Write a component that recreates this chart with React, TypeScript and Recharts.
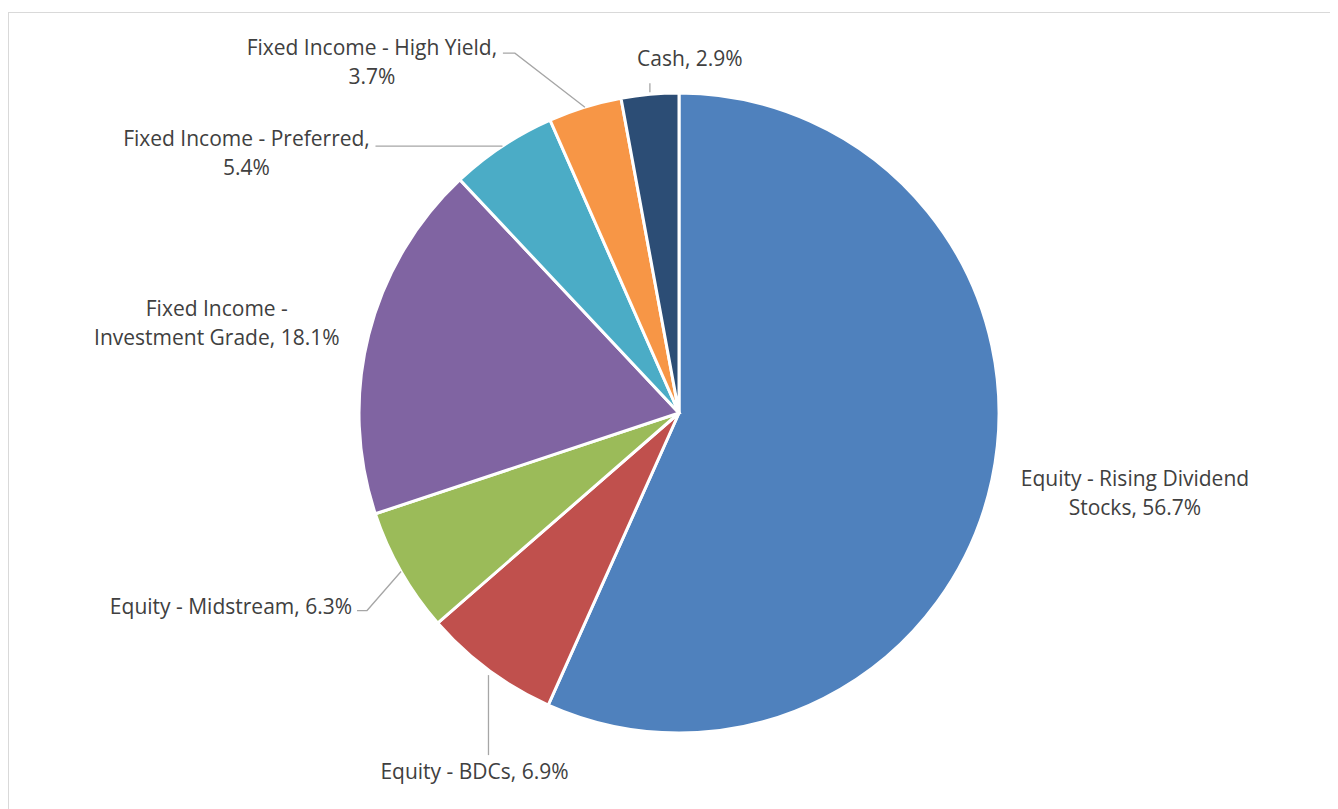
import React from 'react';
import { PieChart, Pie, Cell } from 'recharts';

const CATEGORIES = [
  'Equity - Rising Dividend Stocks',
  'Equity - BDCs',
  'Equity - Midstream',
  'Fixed Income - Investment Grade',
  'Fixed Income - Preferred',
  'Fixed Income - High Yield',
  'Cash',
];
const VALUES = [56.7, 6.9, 6.3, 18.1, 5.4, 3.7, 2.9];
// label text lines as Excel wrapped them
const LABEL_LINES = [
  ['Equity - Rising Dividend', 'Stocks, 56.7%'],
  ['Equity - BDCs, 6.9%'],
  ['Equity - Midstream, 6.3%'],
  ['Fixed Income -', 'Investment Grade, 18.1%'],
  ['Fixed Income - Preferred,', '5.4%'],
  ['Fixed Income - High Yield,', '3.7%'],
  ['Cash, 2.9%'],
];
const COLORS = ['#4F81BD', '#C0504D', '#9BBB59', '#8064A2', '#4BACC6', '#F79646', '#2C4D75'];

// label placement relative to the slice's outer edge point at its mid angle
const LABEL_LAYOUT = [
  { tx: 143, ty: -2, anchor: 'middle', line: [] as number[][] },
  { tx: -14, ty: 101, anchor: 'middle', line: [[0, 5], [0, 85]] },
  { tx: -49, ty: 34, anchor: 'end', line: [[0, 0], [-34, 39], [-44, 39]] },
  { tx: -152, ty: -26, anchor: 'middle', line: [] },
  { tx: -256, ty: -8, anchor: 'middle', line: [[0, 0], [-127, 0]] },
  { tx: -213, ty: -60, anchor: 'middle', line: [[0, 0], [-70, -54], [-82, -54]] },
  { tx: 40, ty: -36, anchor: 'middle', line: [[0, -2], [0, -11]] },
];

const data = CATEGORIES.map((name, i) => ({ name, value: VALUES[i] }));

const FONT = '"Open Sans", "Noto Sans", sans-serif';
const RAD = Math.PI / 180;

const renderLabel = (props: any) => {
  const { cx, cy, midAngle, outerRadius, index } = props;
  const px = cx + outerRadius * Math.cos(-midAngle * RAD);
  const py = cy + outerRadius * Math.sin(-midAngle * RAD);
  const lay = LABEL_LAYOUT[index];
  const lines = LABEL_LINES[index];
  return (
    <g key={`lbl-${index}`}>
      {lay.line.length > 0 && (
        <polyline
          points={lay.line.map(([dx, dy]) => `${px + dx},${py + dy}`).join(' ')}
          fill="none"
          stroke="#A6A6A6"
          strokeWidth={1.3}
        />
      )}
      {lines.map((t, j) => (
        <text
          key={j}
          x={px + lay.tx}
          y={py + lay.ty + j * 29}
          textAnchor={lay.anchor as any}
          dominantBaseline="central"
          fill="#404040"
          fontSize={21}
          fontFamily={FONT}
        >
          {t}
        </text>
      ))}
    </g>
  );
};

export default function App() {
  return (
    <div
      style={{
        marginTop: 4,
        width: 1340,
        height: 810,
        border: '1px solid #D9D9D9',
        background: '#fff',
        boxSizing: 'border-box',
      }}
    >
      <PieChart width={1330} height={800}>
        <Pie
          data={data}
          dataKey="value"
          nameKey="name"
          cx={665}
          cy={395}
          outerRadius={320}
          startAngle={90}
          endAngle={-270}
          stroke="#FFFFFF"
          strokeWidth={3}
          label={renderLabel}
          labelLine={false}
          isAnimationActive={false}
        >
          {data.map((entry, i) => (
            <Cell key={`cell-${i}`} fill={COLORS[i]} />
          ))}
        </Pie>
      </PieChart>
    </div>
  );
}
